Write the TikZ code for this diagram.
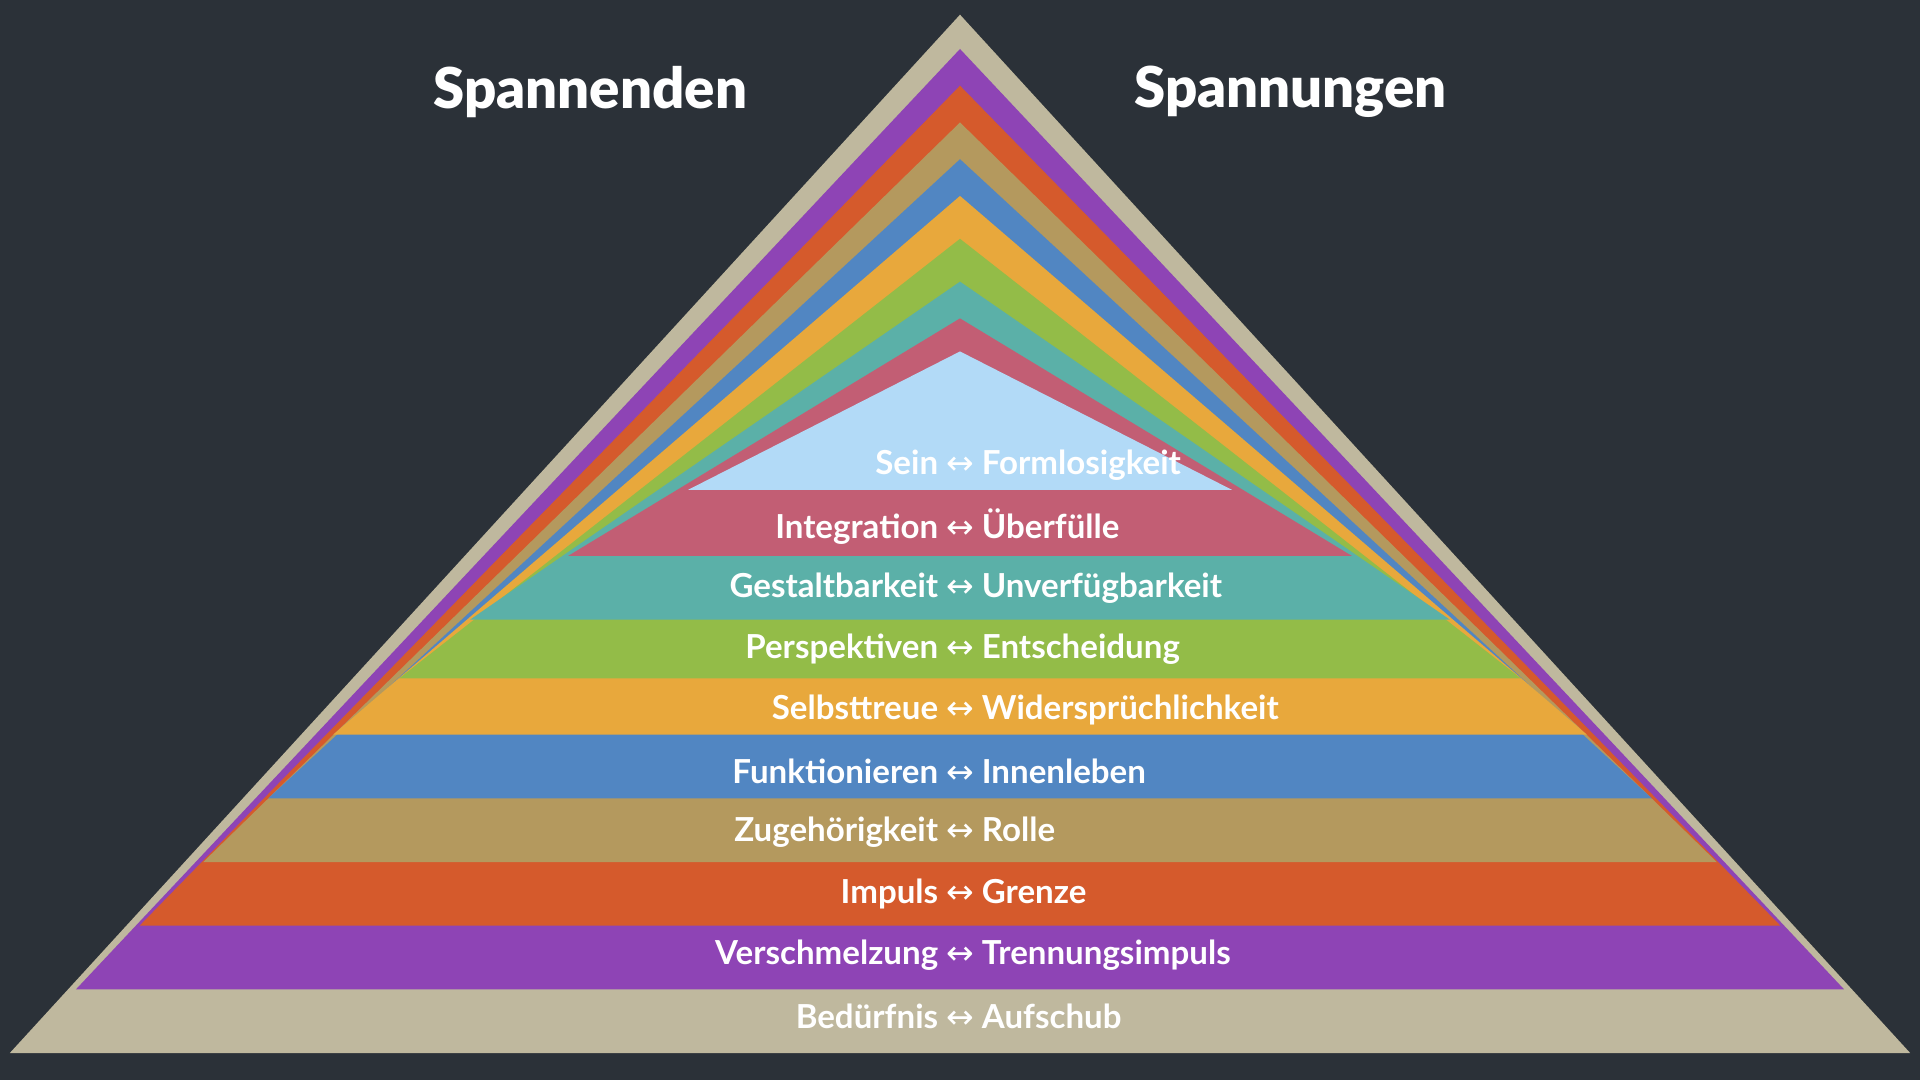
\documentclass[tikz,border=0pt]{standalone}
\usepackage{fontspec}
\setmainfont{Lato}[UprightFont=* Bold]
\newfontfamily\arrowfont{DejaVu Sans}
\definecolor{bg}{HTML}{2B3138}
\definecolor{cTan}{HTML}{BFB89E}
\definecolor{cPur}{HTML}{8E44B5}
\definecolor{cOra}{HTML}{D55A2C}
\definecolor{cBro}{HTML}{B4995E}
\definecolor{cBlu}{HTML}{5186C2}
\definecolor{cYel}{HTML}{E8A83C}
\definecolor{cGre}{HTML}{93BC48}
\definecolor{cTea}{HTML}{5BB0A8}
\definecolor{cPin}{HTML}{C25E74}
\definecolor{cLbl}{HTML}{B2DAF7}
\newcommand{\mytri}[4]{\fill[#1] (784,#2) -- (784-#4,#3) -- (784+#4,#3) -- cycle;}
\newcommand{\arr}{{\arrowfont\char"2194}}
\begin{document}
\begin{tikzpicture}[x=1pt,y=-1pt,
  lab/.style={text=white,font=\fontsize{27}{30}\selectfont,inner sep=0pt},
  ttl/.style={text=white,font=\fontsize{46}{50}\selectfont\bfseries,inner sep=0pt}]
\fill[bg] (0,0) rectangle (1568,882);
\useasboundingbox (0,0) rectangle (1568,882);
\mytri{cTan}{12}{860}{776}
\mytri{cPur}{40}{808}{722}
\mytri{cOra}{70}{756}{670}
\mytri{cBro}{100}{704}{618}
\mytri{cBlu}{130}{652}{565}
\mytri{cYel}{160}{600}{512}
\mytri{cGre}{195}{554}{458}
\mytri{cTea}{230}{506}{400}
\mytri{cPin}{260}{454}{320}
\mytri{cLbl}{287}{400}{222}
\node[ttl] (t1) at (482,75) {Spannenden};
\node[ttl] (t2) at (1054,75) {Spannungen};
\node[lab] (l1) at (784,380) {\llap{Sein }\arr\rlap{ Formlosigkeit}};
\node[lab] (l2) at (784,430) {\llap{Integration }\arr\rlap{ Überfülle}};
\node[lab] (l3) at (784,480) {\llap{Gestaltbarkeit }\arr\rlap{ Unverfügbarkeit}};
\node[lab] (l4) at (784,530) {\llap{Perspektiven }\arr\rlap{ Entscheidung}};
\node[lab] (l5) at (784,580) {\llap{Selbsttreue }\arr\rlap{ Widersprüchlichkeit}};
\node[lab] (l6) at (784,630) {\llap{Funktionieren }\arr\rlap{ Innenleben}};
\node[lab] (l7) at (784,680) {\llap{Zugehörigkeit }\arr\rlap{ Rolle}};
\node[lab] (l8) at (784,730) {\llap{Impuls }\arr\rlap{ Grenze}};
\node[lab] (l9) at (784,780) {\llap{Verschmelzung }\arr\rlap{ Trennungsimpuls}};
\node[lab] (l10) at (784,830) {\llap{Bedürfnis }\arr\rlap{ Aufschub}};
\end{tikzpicture}
\end{document}
